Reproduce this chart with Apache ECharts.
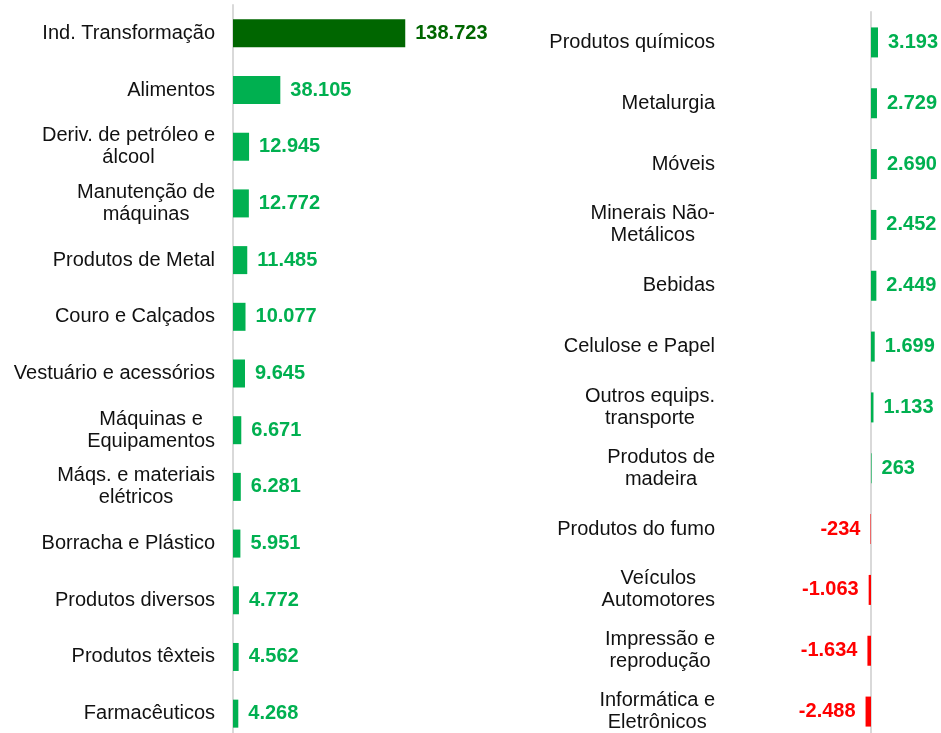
<!DOCTYPE html>
<html>
<head>
<meta charset="utf-8">
<script src="https://cdn.jsdelivr.net/npm/echarts@6/dist/echarts.min.js"></script>
<style>
  html, body { margin: 0; padding: 0; background: #fff; }
  #chart { width: 941px; height: 733px; }
</style>
</head>
<body>
<div id="chart"></div>
<script>
// dados do painel esquerdo
const leftCats = [
  "Ind. Transformação", "Alimentos", "Deriv. de petróleo e\nálcool", "Manutenção de\nmáquinas",
  "Produtos de Metal", "Couro e Calçados", "Vestuário e acessórios", "Máquinas e\nEquipamentos",
  "Máqs. e materiais\nelétricos", "Borracha e Plástico", "Produtos diversos", "Produtos têxteis",
  "Farmacêuticos"
];
const leftValues = [138723, 38105, 12945, 12772, 11485, 10077, 9645, 6671, 6281, 5951, 4772, 4562, 4268];

// dados do painel direito
const rightCats = [
  "Produtos químicos", "Metalurgia", "Móveis", "Minerais Não-\nMetálicos", "Bebidas",
  "Celulose e Papel", "Outros equips.\ntransporte", "Produtos de\nmadeira", "Produtos do fumo",
  "Veículos\nAutomotores", "Impressão e\nreprodução", "Informática e\nEletrônicos"
];
const rightValues = [3193, 2729, 2690, 2452, 2449, 1699, 1133, 263, -234, -1063, -1634, -2488];

const FONT = "'Liberation Sans', Arial, sans-serif";
const GREEN = "#00b050";
const DARK = "#006600";
const RED = "#ff0000";

function fmt(v) {
  const s = Math.abs(v).toString().replace(/\B(?=(\d{3})+(?!\d))/g, ".");
  return (v < 0 ? "-" : "") + s;
}

// linhas quebradas centralizadas, como no Excel
function catLabel(v) {
  return v.split("\n").map(function (l) { return "{c|" + l + "}"; }).join("\n");
}

function items(values, first) {
  return values.map(function (v, i) {
    const col = v < 0 ? RED : (first && i === 0 ? DARK : GREEN);
    return {
      value: v,
      itemStyle: { color: col },
      label: { color: col, position: v < 0 ? "left" : "right" }
    };
  });
}

const chart = echarts.init(document.getElementById("chart"));

const yCommon = {
  type: "category",
  inverse: true,
  axisTick: { show: false },
  axisLine: { show: true, onZero: true, lineStyle: { color: "#d9d9d9", width: 2 } },
  axisLabel: {
    color: "#111",
    fontFamily: FONT,
    fontSize: 20,
    lineHeight: 22,
    formatter: catLabel,
    rich: { c: { align: "center", fontFamily: FONT, fontSize: 20, lineHeight: 22, color: "#111" } }
  }
};

const xCommon = {
  type: "value",
  show: false,
  splitLine: { show: false }
};

const labelCommon = {
  show: true,
  distance: 10,
  fontFamily: FONT,
  fontSize: 20,
  fontWeight: "bold",
  formatter: function (p) { return fmt(p.value); }
};

chart.setOption({
  animation: false,
  grid: [
    { left: 233, width: 298, top: 5, height: 737, containLabel: false, outerBoundsMode: "none" },
    { left: 731, width: 210, top: 12, height: 730, containLabel: false, outerBoundsMode: "none" }
  ],
  xAxis: [
    Object.assign({}, xCommon, { gridIndex: 0, min: 0, max: 240000 }),
    Object.assign({}, xCommon, { gridIndex: 1, min: -64000, max: 32000 })
  ],
  yAxis: [
    Object.assign({}, yCommon, { gridIndex: 0, data: leftCats,
      axisLabel: Object.assign({}, yCommon.axisLabel, { margin: 18 }) }),
    Object.assign({}, yCommon, { gridIndex: 1, data: rightCats,
      axisLabel: Object.assign({}, yCommon.axisLabel, { margin: 16 }) })
  ],
  series: [
    {
      type: "bar",
      xAxisIndex: 0,
      yAxisIndex: 0,
      barWidth: 28,
      label: labelCommon,
      data: items(leftValues, true)
    },
    {
      type: "bar",
      xAxisIndex: 1,
      yAxisIndex: 1,
      barWidth: 30,
      label: labelCommon,
      data: items(rightValues, false)
    }
  ]
});
</script>
</body>
</html>
